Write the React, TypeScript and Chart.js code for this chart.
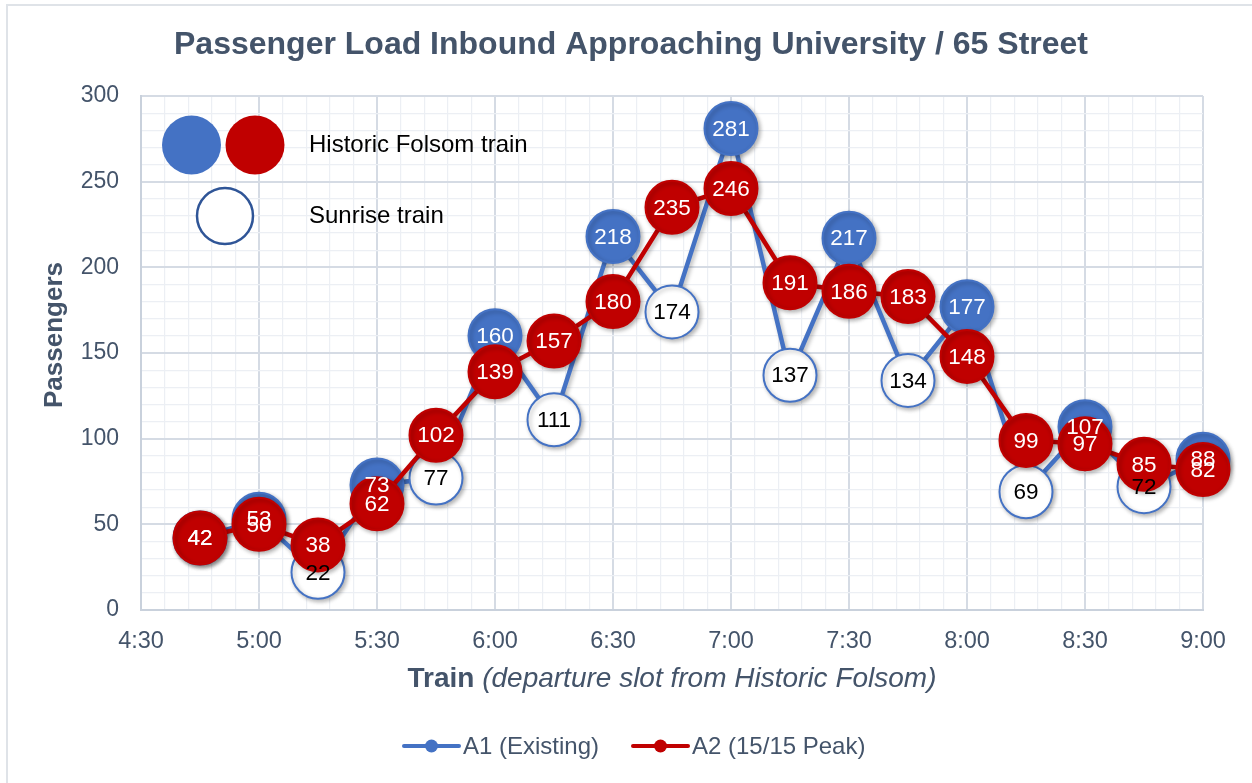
import React, { useEffect, useRef } from 'react';
import { Chart, registerables } from 'chart.js';

Chart.register(...registerables);

// ---- data ----
const slots = ['4:45', '5:00', '5:15', '5:30', '5:45', '6:00', '6:15', '6:30', '6:45', '7:00', '7:15', '7:30', '7:45', '8:00', '8:15', '8:30', '8:45', '9:00'];
const a1Existing = [42, 53, 22, 73, 77, 160, 111, 218, 174, 281, 137, 217, 134, 177, 69, 107, 72, 88];
const a2Peak = [42, 50, 38, 62, 102, 139, 157, 180, 235, 246, 191, 186, 183, 148, 99, 97, 85, 82];
// F = Historic Folsom train, S = Sunrise train (A1 series)
const a1TrainType = ['F', 'F', 'S', 'F', 'S', 'F', 'S', 'F', 'S', 'F', 'S', 'F', 'S', 'F', 'S', 'F', 'S', 'F'];
const xMinLabel = '4:30';
const xMaxLabel = '9:00';
const yMax = 300;

const FONT = '"Liberation Sans", Arial, sans-serif';
const BLUE = '#4472C4';
const RED = '#C00000';
const SLATE = '#44546A';

const toMin = (s: string) => {
  const [h, m] = s.split(':').map(Number);
  return h * 60 + m;
};
const fmt = (v: number) => `${Math.floor(v / 60)}:${String(v % 60).padStart(2, '0')}`;

export default function App() {
  const ref = useRef<HTMLCanvasElement | null>(null);

  useEffect(() => {
    document.body.style.margin = '0';
    const canvas = ref.current!;
    const xs = slots.map(toMin);

    const overlay = {
      id: 'overlay',
      beforeDraw(chart: any) {
        const ctx = chart.ctx;
        ctx.save();
        ctx.fillStyle = '#ffffff';
        ctx.fillRect(0, 0, chart.width, chart.height);
        ctx.strokeStyle = '#dfe3e8';
        ctx.lineWidth = 2;
        ctx.beginPath();
        ctx.moveTo(7, chart.height);
        ctx.lineTo(7, 5);
        ctx.lineTo(chart.width, 5);
        ctx.stroke();
        ctx.restore();
      },
      beforeDatasetDraw(chart: any) {
        const ctx = chart.ctx;
        ctx.save();
        ctx.shadowColor = 'rgba(0,0,0,0.28)';
        ctx.shadowBlur = 4;
        ctx.shadowOffsetX = 2;
        ctx.shadowOffsetY = 2;
      },
      afterDatasetDraw(chart: any) {
        chart.ctx.restore();
      },
      afterDatasetsDraw(chart: any) {
        const ctx = chart.ctx;
        ctx.save();
        ctx.font = `22.5px ${FONT}`;
        ctx.textAlign = 'center';
        ctx.textBaseline = 'middle';
        const m1 = chart.getDatasetMeta(0);
        m1.data.forEach((pt: any, i: number) => {
          ctx.fillStyle = a1TrainType[i] === 'F' ? '#ffffff' : '#000000';
          ctx.fillText(String(a1Existing[i]), pt.x, pt.y + 1);
        });
        const m2 = chart.getDatasetMeta(1);
        m2.data.forEach((pt: any, i: number) => {
          ctx.fillStyle = '#ffffff';
          ctx.fillText(String(a2Peak[i]), pt.x, pt.y + 1);
        });
        ctx.restore();
      },
      afterDraw(chart: any) {
        const ctx = chart.ctx;
        const ca = chart.chartArea;
        ctx.save();
        // title
        ctx.fillStyle = SLATE;
        ctx.textAlign = 'center';
        ctx.textBaseline = 'middle';
        ctx.font = `bold 32px ${FONT}`;
        ctx.fillText('Passenger Load Inbound Approaching University / 65 Street', 631, 45);

        // y title
        ctx.save();
        ctx.translate(55, 335);
        ctx.rotate(-Math.PI / 2);
        ctx.font = `bold 26px ${FONT}`;
        ctx.fillText('Passengers', 0, 0);
        ctx.restore();

        // x title (mixed styles)
        const p1 = 'Train';
        const p2 = ' (departure slot from Historic Folsom)';
        ctx.textAlign = 'left';
        ctx.font = `bold 28px ${FONT}`;
        const w1 = ctx.measureText(p1).width;
        ctx.font = `italic 28px ${FONT}`;
        const w2 = ctx.measureText(p2).width;
        const cx = (ca.left + ca.right) / 2;
        const sx = cx - (w1 + w2) / 2;
        ctx.font = `bold 28px ${FONT}`;
        ctx.fillText(p1, sx, 679);
        ctx.font = `italic 28px ${FONT}`;
        ctx.fillText(p2, sx + w1, 679);

        // in-chart legend
        const drawCircle = (x: number, y: number, r: number, fill: string, stroke?: string) => {
          ctx.beginPath();
          ctx.arc(x, y, r, 0, Math.PI * 2);
          ctx.fillStyle = fill;
          ctx.fill();
          if (stroke) {
            ctx.lineWidth = 2.5;
            ctx.strokeStyle = stroke;
            ctx.stroke();
          }
        };
        drawCircle(ca.left + 50.5, ca.top + 49, 29.5, BLUE);
        drawCircle(ca.left + 114, ca.top + 49, 29.5, RED);
        drawCircle(ca.left + 84, ca.top + 120, 28, '#ffffff', '#2F5597');
        ctx.fillStyle = '#000000';
        ctx.font = `24px ${FONT}`;
        ctx.textBaseline = 'middle';
        ctx.fillText('Historic Folsom train', ca.left + 168, ca.top + 49);
        ctx.fillText('Sunrise train', ca.left + 168, ca.top + 120);

        // bottom legend
        const items = [
          { label: 'A1 (Existing)', color: BLUE, x: 404 },
          { label: 'A2 (15/15 Peak)', color: RED, x: 633 },
        ];
        const ly = 746;
        items.forEach((it) => {
          ctx.strokeStyle = it.color;
          ctx.lineWidth = 4;
          ctx.lineCap = 'round';
          ctx.beginPath();
          ctx.moveTo(it.x, ly);
          ctx.lineTo(it.x + 55, ly);
          ctx.stroke();
          ctx.beginPath();
          ctx.arc(it.x + 27.5, ly, 6.5, 0, Math.PI * 2);
          ctx.fillStyle = it.color;
          ctx.fill();
          ctx.fillStyle = SLATE;
          ctx.font = `24px ${FONT}`;
          ctx.fillText(it.label, it.x + 59, ly + 1);
        });
        ctx.restore();
      },
    };

    const gridColor = (ctx: any, step: number) =>
      ctx.tick && ctx.tick.value % step === 0 ? '#d5dbe4' : '#eceff4';
    const gridWidth = (ctx: any, step: number) => (ctx.tick && ctx.tick.value % step === 0 ? 2 : 1.2);

    const chart = new Chart(canvas, {
      type: 'line',
      data: {
        datasets: [
          {
            label: 'A1 (Existing)',
            data: xs.map((x, i) => ({ x, y: a1Existing[i] })),
            borderColor: BLUE,
            borderWidth: 4.5,
            pointRadius: 26.5,
            pointBorderWidth: 2,
            pointBackgroundColor: a1TrainType.map((t) => (t === 'F' ? BLUE : '#ffffff')),
            pointBorderColor: BLUE,
            tension: 0,
            clip: false as any,
            order: 1,
          },
          {
            label: 'A2 (15/15 Peak)',
            data: xs.map((x, i) => ({ x, y: a2Peak[i] })),
            borderColor: RED,
            borderWidth: 4.5,
            pointRadius: 26.5,
            pointBorderWidth: 2,
            pointBackgroundColor: RED,
            pointBorderColor: RED,
            tension: 0,
            clip: false as any,
            order: 0,
          },
        ],
      },
      options: {
        responsive: false,
        animation: false,
        events: [],
        layout: { padding: { left: 0, top: 96, right: 49, bottom: 0 } },
        plugins: { legend: { display: false }, title: { display: false }, tooltip: { enabled: false } },
        scales: {
          x: {
            type: 'linear',
            min: toMin(xMinLabel),
            max: toMin(xMaxLabel),
            afterFit: (s: any) => {
              s.height = 173;
              s.paddingLeft = 0;
              s.paddingRight = 0;
            },
            ticks: {
              stepSize: 6,
              maxTicksLimit: 1000,
              autoSkip: false,
              maxRotation: 0,
              padding: 17,
              color: SLATE,
              font: { family: FONT, size: 23.5 },
              callback: (v: any) => (Number(v) % 30 === 0 ? fmt(Number(v)) : ''),
            },
            grid: {
              drawTicks: false,
              color: (c: any) => gridColor(c, 30),
              lineWidth: (c: any) => gridWidth(c, 30),
            },
            border: { display: true, color: '#c9d1dc', width: 2 },
          },
          y: {
            type: 'linear',
            min: 0,
            max: yMax,
            afterFit: (s: any) => {
              s.width = 141;
              s.paddingTop = 0;
              s.paddingBottom = 0;
            },
            ticks: {
              stepSize: 10,
              maxTicksLimit: 1000,
              autoSkip: false,
              padding: 22,
              color: SLATE,
              font: { family: FONT, size: 23 },
              callback: (v: any) => (Number(v) % 50 === 0 ? String(v) : ''),
            },
            grid: {
              drawTicks: false,
              color: (c: any) => gridColor(c, 50),
              lineWidth: (c: any) => gridWidth(c, 50),
            },
            border: { display: true, color: '#c9d1dc', width: 2 },
          },
        },
      } as any,
      plugins: [overlay],
    });

    return () => chart.destroy();
  }, []);

  return (
    <div style={{ width: 1252, height: 783, position: 'relative' }}>
      <canvas ref={ref} width={1252} height={783} style={{ display: 'block' }} />
    </div>
  );
}
